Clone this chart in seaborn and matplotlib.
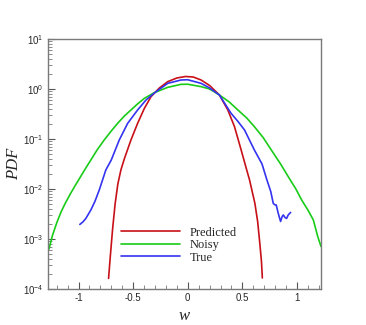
import numpy as np
import pandas as pd
import matplotlib
matplotlib.use("Agg")
import matplotlib.pyplot as plt
import seaborn as sns
from matplotlib.ticker import FixedLocator, MultipleLocator, LogLocator, NullFormatter

# ---- data (pdf values given as log10) ----
pred_w = [-0.725, -0.709, -0.688, -0.665, -0.64, -0.612, -0.581, -0.52, -0.459, -0.397, -0.336,
          -0.26, -0.183, -0.10, -0.02, 0.05, 0.122, 0.20, 0.29, 0.367, 0.428, 0.489, 0.54, 0.566,
          0.615, 0.64, 0.66, 0.675, 0.683]
pred_log = [-3.79, -3.35, -2.8, -2.3, -1.9, -1.62, -1.40, -1.02, -0.687, -0.387, -0.153,
            0.02, 0.147, 0.22, 0.25, 0.24, 0.18, 0.07, -0.12, -0.42, -0.753, -1.22, -1.62, -1.82,
            -2.29, -2.65, -3.09, -3.45, -3.78]

noisy_w = [-1.27, -1.24, -1.20, -1.16, -1.12, -1.07, -1.03, -0.994, -0.933, -0.887, -0.83, -0.765,
           -0.70, -0.642, -0.58, -0.52, -0.46, -0.397, -0.306, -0.183, -0.061, 0.0, 0.122, 0.20,
           0.29, 0.38, 0.459, 0.54, 0.61, 0.69, 0.765, 0.85, 0.933, 0.99, 1.043, 1.10, 1.15, 1.19, 1.22]
noisy_log = [-3.2, -2.94, -2.68, -2.46, -2.28, -2.08, -1.93, -1.80, -1.58, -1.42, -1.22, -1.02,
             -0.84, -0.687, -0.54, -0.42, -0.30, -0.187, -0.073, 0.033, 0.093, 0.095, 0.047, 0.0,
             -0.12, -0.26, -0.42, -0.58, -0.753, -0.97, -1.22, -1.50, -1.80, -2.0, -2.22, -2.42, -2.62,
             -2.95, -3.15]

true_w = [-0.988, -0.96, -0.933, -0.887, -0.85, -0.81, -0.78, -0.75, -0.70, -0.627, -0.55, -0.459,
          -0.382, -0.30, -0.183, -0.061, 0.0, 0.122, 0.20, 0.29, 0.397, 0.46, 0.52, 0.61, 0.68,
          0.725, 0.76, 0.783, 0.80, 0.81, 0.829, 0.85, 0.865, 0.875, 0.89, 0.905, 0.92, 0.942]
true_log = [-2.71, -2.66, -2.59, -2.42, -2.25, -2.02, -1.82, -1.62, -1.42, -1.02, -0.687, -0.42,
            -0.22, -0.07, 0.113, 0.18, 0.185, 0.113, 0.02, -0.12, -0.487, -0.65, -0.82, -1.22, -1.50,
            -1.82, -2.05, -2.29, -2.32, -2.32, -2.49, -2.65, -2.55, -2.52, -2.57, -2.59, -2.52, -2.47]

labels = ["Predicted", "Noisy", "True"]
colors = ["#c81018", "#18cc18", "#3434f0"]

frames = []
for lab, w, lg in zip(labels, [pred_w, noisy_w, true_w], [pred_log, noisy_log, true_log]):
    frames.append(pd.DataFrame({"w": w, "pdf": 10 ** np.array(lg), "series": lab}))
df = pd.concat(frames, ignore_index=True)

sns.set_style("white")
plt.rcParams["font.family"] = ["Liberation Sans", "DejaVu Sans"]
plt.rcParams["mathtext.fontset"] = "custom"
plt.rcParams["mathtext.rm"] = "Liberation Sans"
plt.rcParams["mathtext.it"] = "Liberation Sans:italic"

fig = plt.figure(figsize=(3.66, 3.25), dpi=100)
ax = fig.add_axes([0.131, 0.111, 0.746, 0.769])

sns.lineplot(data=df, x="w", y="pdf", hue="series", hue_order=labels,
             palette=dict(zip(labels, colors)), sort=False, estimator=None,
             units="series", linewidth=1.2, ax=ax, legend=False)

ax.set_yscale("log")
ax.set_ylim(1e-4, 1e1)
ax.set_xlim(-1.28, 1.22)

ax.xaxis.set_major_locator(FixedLocator([-1, -0.5, 0, 0.5, 1]))
ax.set_xticklabels(["-1", "-0.5", "0", "0.5", "1"])
ax.xaxis.set_minor_locator(MultipleLocator(0.1))
ax.yaxis.set_major_locator(LogLocator(base=10, numticks=10))
ax.yaxis.set_minor_locator(LogLocator(base=10, subs=np.arange(2, 10), numticks=20))
ax.yaxis.set_minor_formatter(NullFormatter())

ax.tick_params(axis="both", which="major", direction="in", length=5, width=0.8,
               labelsize=7, color="#555555", pad=3, top=False, right=False,
               bottom=True, left=True)
ax.tick_params(axis="both", which="minor", direction="in", length=3, width=0.6,
               color="#777777", top=False, right=False, bottom=True, left=True)

for s in ax.spines.values():
    s.set_color("#7a7a7a")
    s.set_linewidth(1.0)

ax.set_xlabel("w", family="Liberation Serif", style="italic", fontsize=12)
ax.set_ylabel("PDF", family="Liberation Serif", style="italic", fontsize=12)
ax.xaxis.set_label_coords(0.5, -0.075)
ax.yaxis.set_label_coords(-0.095, 0.5)

handles = [plt.Line2D([], [], color=c, lw=1.2) for c in colors]
leg = fig.legend(handles, labels, loc="upper left", bbox_to_anchor=(0.331, 0.303),
                 frameon=False, borderpad=0, borderaxespad=0, handlelength=4.7,
                 handletextpad=0.8, labelspacing=0.05,
                 prop={"family": "Liberation Serif", "size": 9})

fig.savefig("out.png", dpi=100)
